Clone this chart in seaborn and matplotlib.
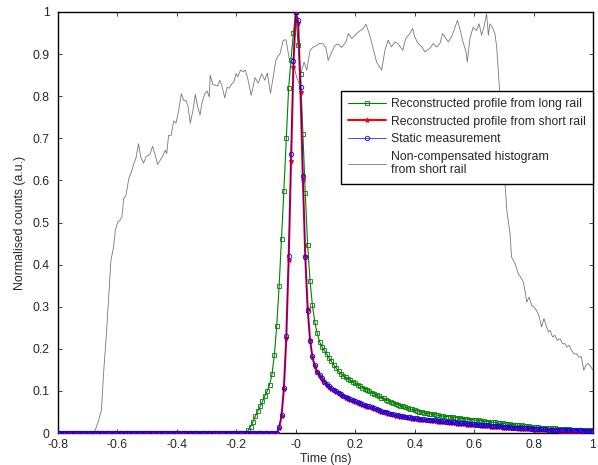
import numpy as np
import matplotlib
matplotlib.use("Agg")
import matplotlib.pyplot as plt
from matplotlib.ticker import FormatStrFormatter
import seaborn as sns

# common time grid of the reconstructed profiles (ns)
time_ns = np.round(np.arange(-0.8, 1.0001, 0.008), 3)

# reconstructed profile from the long rail
long_rail = ([0.0] * 80 +
             [0.006, 0.015, 0.027, 0.040, 0.052, 0.063, 0.075, 0.088, 0.100, 0.115,
              0.139, 0.186, 0.255, 0.349, 0.462, 0.576, 0.700, 0.819, 0.887, 0.950,
              1.000, 0.922, 0.853, 0.710, 0.569, 0.446, 0.361, 0.303, 0.264, 0.237,
              0.217, 0.205, 0.196, 0.188, 0.178, 0.170, 0.161, 0.154, 0.147, 0.141,
              0.136, 0.132, 0.128, 0.125, 0.121, 0.118, 0.115, 0.112, 0.108, 0.105,
              0.102, 0.099, 0.096, 0.093, 0.090, 0.087, 0.084, 0.082, 0.079, 0.077,
              0.074, 0.072, 0.069, 0.067, 0.064, 0.063, 0.061, 0.059, 0.057, 0.056,
              0.054, 0.053, 0.051, 0.050, 0.048, 0.047, 0.046, 0.045, 0.044, 0.043,
              0.042, 0.041, 0.040,
              0.039, 0.039, 0.038, 0.037, 0.036, 0.036, 0.035, 0.034, 0.034, 0.033,
              0.032, 0.032, 0.031, 0.030, 0.030, 0.029, 0.028, 0.027, 0.027, 0.026,
              0.025, 0.025, 0.024, 0.023, 0.023, 0.022, 0.021, 0.021, 0.020, 0.019,
              0.019, 0.018, 0.018, 0.017, 0.016, 0.016, 0.015, 0.015, 0.014, 0.014,
              0.013, 0.013, 0.012, 0.012, 0.011, 0.011, 0.011, 0.010, 0.010, 0.010,
              0.009, 0.009, 0.009, 0.008, 0.008, 0.008, 0.008, 0.007, 0.007, 0.007,
              0.007, 0.007, 0.007])

# reconstructed profile from the short rail
short_rail = ([0.0] * 93 +
              [0.012, 0.040, 0.105, 0.225, 0.410, 0.645, 0.870, 1.000, 0.975, 0.810,
               0.600, 0.420, 0.295, 0.222, 0.180, 0.158, 0.144, 0.136, 0.128, 0.121,
               0.115, 0.110, 0.105, 0.101, 0.097, 0.094, 0.090, 0.087, 0.084, 0.081,
               0.078, 0.076, 0.074, 0.072, 0.069, 0.067, 0.065, 0.062, 0.061, 0.059,
               0.057, 0.055, 0.053, 0.051, 0.049, 0.048, 0.046, 0.044, 0.043, 0.041,
               0.040, 0.038, 0.038, 0.037, 0.036, 0.035, 0.034, 0.033, 0.033, 0.032,
               0.031, 0.031, 0.030, 0.030, 0.029, 0.029, 0.028, 0.027, 0.027, 0.026,
               0.025, 0.025, 0.024, 0.024, 0.023, 0.022, 0.022, 0.021, 0.021, 0.020,
               0.020, 0.019, 0.019, 0.018, 0.018, 0.017, 0.017, 0.016, 0.016, 0.015,
               0.015, 0.015, 0.014, 0.014, 0.013, 0.013, 0.012, 0.012, 0.012, 0.011,
               0.011, 0.010, 0.010, 0.010, 0.009, 0.009, 0.009, 0.008, 0.008, 0.008,
               0.008, 0.007, 0.007, 0.007, 0.006, 0.006, 0.006, 0.006, 0.005, 0.005,
               0.005, 0.005, 0.005, 0.004, 0.004, 0.004, 0.004, 0.004, 0.004, 0.004,
               0.004, 0.004, 0.004])

# static measurement
static = ([0.0] * 93 +
          [0.015, 0.043, 0.108, 0.230, 0.421, 0.662, 0.884, 1.000, 0.980, 0.821,
           0.611, 0.417, 0.290, 0.219, 0.182, 0.162, 0.146, 0.138, 0.130, 0.122,
           0.116, 0.111, 0.107, 0.103, 0.099, 0.096, 0.092, 0.089, 0.086, 0.083,
           0.080, 0.078, 0.076, 0.074, 0.071, 0.069, 0.067, 0.064, 0.063, 0.061,
           0.059, 0.057, 0.055, 0.053, 0.051, 0.050, 0.048, 0.046, 0.045, 0.043,
           0.042, 0.040, 0.040, 0.039, 0.038, 0.037, 0.036, 0.035, 0.035, 0.034,
           0.033, 0.033, 0.032, 0.032, 0.031, 0.031, 0.030, 0.029, 0.029, 0.028,
           0.027, 0.027, 0.026, 0.026, 0.025, 0.024, 0.024, 0.023, 0.023, 0.022,
           0.022, 0.021, 0.021, 0.020, 0.020, 0.019, 0.019, 0.018, 0.018, 0.017,
           0.017, 0.016, 0.016, 0.016, 0.015, 0.015, 0.014, 0.014, 0.013, 0.013,
           0.013, 0.012, 0.012, 0.011, 0.011, 0.011, 0.010, 0.010, 0.010, 0.009,
           0.009, 0.009, 0.009, 0.008, 0.008, 0.008, 0.008, 0.007, 0.007, 0.007,
           0.007, 0.007, 0.006, 0.006, 0.006, 0.006, 0.006, 0.006, 0.005, 0.005,
           0.005, 0.005, 0.005])

# non-compensated histogram from the short rail
hist_time = [-0.800, -0.680, -0.672, -0.663, -0.654, -0.646, -0.637, -0.629, -0.622, -0.613,
             -0.607, -0.599, -0.592, -0.585, -0.579, -0.571, -0.562, -0.553, -0.545, -0.538,
             -0.529, -0.522, -0.512, -0.504, -0.497, -0.490, -0.482, -0.473, -0.465, -0.456,
             -0.448, -0.439, -0.434, -0.428, -0.419, -0.411, -0.403, -0.394, -0.385, -0.377,
             -0.370, -0.363, -0.355, -0.346, -0.338, -0.330, -0.322, -0.316, -0.307, -0.298,
             -0.291, -0.288, -0.279, -0.270, -0.263, -0.256, -0.249, -0.239, -0.231, -0.224,
             -0.214, -0.209, -0.201, -0.195, -0.186, -0.177, -0.170, -0.162, -0.150, -0.137,
             -0.126, -0.115, -0.104, -0.096, -0.085, -0.076, -0.067, -0.060, -0.053, -0.042,
             -0.033, -0.025, -0.020, -0.008, 0.003, 0.012, 0.020, 0.028, 0.037, 0.048,
             0.059, 0.070, 0.081, 0.093, 0.102, 0.109, 0.121, 0.132, 0.143, 0.154,
             0.169, 0.177, 0.188, 0.199, 0.210, 0.227, 0.236, 0.247, 0.259, 0.272,
             0.283, 0.289, 0.300, 0.311, 0.322, 0.334, 0.345, 0.360, 0.370, 0.384,
             0.393, 0.400, 0.412, 0.424, 0.435, 0.440, 0.451, 0.462, 0.474, 0.485,
             0.494, 0.502, 0.513, 0.524, 0.536, 0.544, 0.552, 0.561, 0.573, 0.577,
             0.586, 0.597, 0.608, 0.617, 0.625, 0.633, 0.642, 0.648, 0.653, 0.661,
             0.670, 0.676, 0.685, 0.704, 0.710, 0.721, 0.726, 0.738, 0.749, 0.757,
             0.766, 0.771, 0.777, 0.785, 0.794, 0.802, 0.810, 0.818, 0.827, 0.835,
             0.842, 0.850, 0.856, 0.864, 0.872, 0.880, 0.889, 0.898, 0.906, 0.913,
             0.920, 0.928, 0.936, 0.945, 0.953, 0.961, 0.969, 0.976, 0.984, 0.993,
             1.000]
hist_counts = [0.000, 0.000, 0.012, 0.031, 0.054, 0.149, 0.236, 0.331, 0.410, 0.442,
               0.482, 0.501, 0.505, 0.513, 0.557, 0.565, 0.604, 0.620, 0.640, 0.652,
               0.687, 0.656, 0.641, 0.656, 0.659, 0.662, 0.681, 0.660, 0.638, 0.648,
               0.657, 0.672, 0.664, 0.707, 0.707, 0.741, 0.736, 0.766, 0.806, 0.790,
               0.790, 0.778, 0.736, 0.766, 0.804, 0.775, 0.755, 0.783, 0.805, 0.812,
               0.798, 0.850, 0.828, 0.826, 0.824, 0.838, 0.826, 0.796, 0.821, 0.819,
               0.831, 0.832, 0.854, 0.846, 0.862, 0.858, 0.862, 0.843, 0.802, 0.844,
               0.831, 0.853, 0.838, 0.855, 0.807, 0.845, 0.885, 0.895, 0.901, 0.933,
               0.934, 0.901, 0.881, 0.877, 0.845, 0.829, 0.862, 0.881, 0.862, 0.909,
               0.917, 0.920, 0.926, 0.924, 0.913, 0.885, 0.905, 0.921, 0.924, 0.916,
               0.929, 0.949, 0.937, 0.944, 0.952, 0.961, 0.971, 0.949, 0.917, 0.881,
               0.869, 0.862, 0.909, 0.933, 0.917, 0.929, 0.924, 0.909, 0.937, 0.949,
               0.961, 0.941, 0.925, 0.917, 0.905, 0.909, 0.913, 0.925, 0.917, 0.925,
               0.949, 0.941, 0.929, 0.941, 0.964, 0.980, 0.961, 0.933, 0.905, 0.881,
               0.937, 0.964, 0.956, 0.972, 0.945, 0.964, 0.996, 0.945, 0.972, 0.964,
               0.949, 0.917, 0.822, 0.593, 0.529, 0.473, 0.418, 0.402, 0.378, 0.370,
               0.358, 0.339, 0.311, 0.323, 0.303, 0.299, 0.291, 0.279, 0.252, 0.272,
               0.256, 0.240, 0.244, 0.228, 0.232, 0.220, 0.224, 0.212, 0.212, 0.204,
               0.208, 0.196, 0.188, 0.188, 0.180, 0.181, 0.149, 0.161, 0.165, 0.157,
               0.149]

labels = ["Reconstructed profile from long rail",
          "Reconstructed profile from short rail",
          "Static measurement",
          "Non-compensated histogram\nfrom short rail"]

for s in (long_rail, short_rail, static):
    assert len(s) == len(time_ns), (len(s), len(time_ns))
assert len(hist_time) == len(hist_counts)

FS = 8.8

sns.set_style("ticks")
plt.rcParams["font.family"] = ["Liberation Sans", "DejaVu Sans"]
plt.rcParams["font.size"] = FS
plt.rcParams["axes.unicode_minus"] = False
plt.rcParams["xtick.direction"] = "in"
plt.rcParams["ytick.direction"] = "in"

fig = plt.figure(figsize=(5.98, 4.65), dpi=100)
ax = fig.add_axes([0.097, 0.0688, 0.8946, 0.9054])

sns.lineplot(x=hist_time, y=hist_counts, ax=ax, sort=False, color="#777777",
             lw=0.6, zorder=1)
sns.lineplot(x=time_ns, y=long_rail, ax=ax, color="#008000", lw=0.8,
             marker="s", markersize=3.2, mfc="none", mec="#008000", mew=0.6,
             zorder=2)
sns.lineplot(x=time_ns, y=short_rail, ax=ax, color="#ff0000", lw=1.5,
             marker="*", markersize=3.5, mec="#ff0000", zorder=3)
sns.lineplot(x=time_ns, y=static, ax=ax, color="#0000ff", lw=0.5,
             marker="o", markersize=3.2, mfc="none", mec="#0000ff", mew=0.6,
             zorder=4)
gray_line, green_line, red_line, blue_line = ax.get_lines()[:4]

ax.set_xlim(-0.8, 1.0)
ax.set_ylim(0, 1)
ax.set_xticks(np.round(np.arange(-0.8, 1.01, 0.2), 1))
ax.set_yticks(np.round(np.arange(0, 1.01, 0.1), 1))
ax.xaxis.set_major_formatter(FormatStrFormatter("%g"))
ax.yaxis.set_major_formatter(FormatStrFormatter("%g"))
ax.tick_params(top=True, right=True, length=3, width=0.6, labelsize=FS)
ax.tick_params(axis="x", pad=4)
ax.tick_params(axis="y", pad=6)
for sp in ax.spines.values():
    sp.set_visible(True)
    sp.set_linewidth(1.0)
    sp.set_color("black")
ax.set_xlabel("Time (ns)", fontsize=FS, labelpad=2)
ax.set_ylabel("Normalised counts (a.u.)", fontsize=FS, labelpad=5)

leg = ax.legend([green_line, red_line, blue_line, gray_line], labels,
                loc="upper right", bbox_to_anchor=(1.0, 0.813), borderaxespad=0,
                frameon=True, fancybox=False, framealpha=1, edgecolor="black",
                handlelength=3.1, handletextpad=0.38, borderpad=0.6,
                labelspacing=0.45, fontsize=FS)
leg.get_frame().set_linewidth(1.0)
leg.set_zorder(10)

fig.savefig("out.png", dpi=100)
